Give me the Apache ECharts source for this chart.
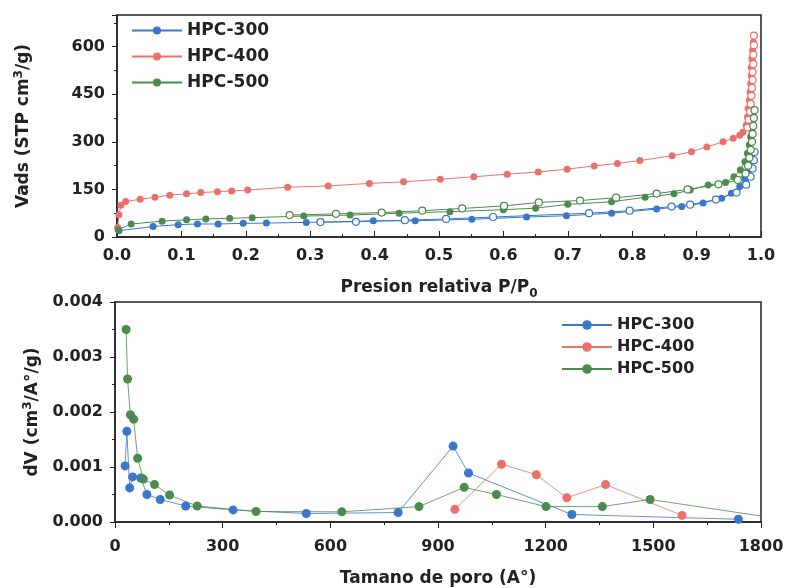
<!DOCTYPE html>
<html>
<head>
<meta charset="utf-8">
<title>HPC isotherms</title>
<script src="https://cdn.jsdelivr.net/npm/echarts@6/dist/echarts.min.js"></script>
<style>
html, body { margin: 0; padding: 0; background: #fff; }
#main { width: 787px; height: 588px; }
</style>
</head>
<body>
<div id="main"></div>
<script>
var names = ['HPC-300', 'HPC-400', 'HPC-500'];
var colors = ['#3a77c9', '#ea716b', '#4d8a4d'];

// isotherm: adsorption branch (filled) and desorption branch (open), [P/P0, Vads]
var ads300 = [[0.003,20],[0.056,33],[0.095,39],[0.125,41],[0.157,41],[0.196,43],[0.232,44],[0.294,46],[0.398,51],[0.463,51],[0.551,56],[0.636,63],[0.698,67],[0.768,75],[0.838,88],[0.877,96],[0.91,107],[0.939,122],[0.954,138],[0.967,159],[0.975,185],[0.98,211],[0.983,237],[0.986,262]];
var des300 = [[0.99,268],[0.989,242],[0.987,216],[0.984,190],[0.977,165],[0.962,140],[0.93,118],[0.89,102],[0.861,96],[0.796,83],[0.733,75],[0.584,63],[0.511,57],[0.447,53],[0.371,48],[0.316,47]];
var ads400 = [[0.001,30],[0.003,70],[0.006,100],[0.0135,112],[0.036,119],[0.059,125],[0.082,132],[0.108,136],[0.13,140],[0.156,143],[0.178,145],[0.203,148],[0.265,157],[0.328,161],[0.392,169],[0.445,174],[0.502,182],[0.554,190],[0.606,198],[0.654,205],[0.699,214],[0.741,224],[0.777,232],[0.812,241],[0.862,256],[0.892,269],[0.916,284],[0.941,300],[0.957,311],[0.967,321],[0.972,330],[0.977,352],[0.979,378],[0.98,405],[0.982,431],[0.983,457],[0.984,483],[0.985,509],[0.985,535],[0.986,562],[0.987,588],[0.988,614]];
var des400 = [[0.989,635],[0.989,605],[0.988,575],[0.988,545],[0.987,520],[0.987,495],[0.986,470],[0.985,445],[0.984,420],[0.983,395],[0.981,370],[0.979,345]];
var ads500 = [[0.002,23],[0.022,41],[0.07,50],[0.108,54],[0.138,57],[0.175,59],[0.21,61],[0.29,66],[0.362,69],[0.438,75],[0.517,80],[0.6,86],[0.65,91],[0.7,103],[0.768,111],[0.82,125],[0.865,136],[0.89,148],[0.918,164],[0.945,172],[0.958,190],[0.968,211],[0.975,237],[0.979,264],[0.982,290],[0.984,316],[0.986,342],[0.987,368],[0.988,394]];
var des500 = [[0.99,400],[0.989,375],[0.988,350],[0.987,325],[0.986,300],[0.984,275],[0.982,250],[0.98,225],[0.976,200],[0.964,180],[0.934,166],[0.886,150],[0.838,137],[0.775,124],[0.719,115],[0.655,109],[0.601,98],[0.536,90],[0.474,83],[0.411,77],[0.34,73],[0.268,69]];

// pore size distribution, [A, dV]
var psd300 = [[28,0.00102],[33,0.00165],[41,0.00062],[49,0.00082],[72,0.0008],[89,0.0005],[126,0.00041],[197,0.00029],[329,0.00022],[533,0.000154],[789,0.000173],[942,0.00138],[985,0.00089],[1273,0.000136],[1737,0.00005]];
var psd400 = [[947,0.00023],[1077,0.00105],[1174,0.00086],[1259,0.00044],[1367,0.00068],[1580,0.00012]];
var psd500 = [[31,0.0035],[35,0.0026],[43,0.00195],[52,0.00187],[63,0.00116],[79,0.00078],[110,0.00068],[152,0.00049],[229,0.00029],[393,0.00019],[632,0.000185],[847,0.00028],[973,0.00063],[1063,0.0005],[1201,0.00028],[1358,0.00028],[1491,0.00041],[1850,0.00006]];

var font = 'DejaVu Sans';
var txt = { fontFamily: font, fontWeight: 'bold', fontSize: 16, color: '#222' };

function isoSeries(name, data, color, open) {
    return {
        name: name, type: 'line', data: data,
        xAxisIndex: 0, yAxisIndex: 0,
        symbol: 'circle', symbolSize: 7,
        lineStyle: { color: color, width: 1 },
        itemStyle: open ? { color: '#fff', borderColor: color, borderWidth: 1.2 } : { color: color },
        z: open ? 3 : 2
    };
}
function psdSeries(name, data, color) {
    return {
        name: name, type: 'line', data: data,
        xAxisIndex: 1, yAxisIndex: 1,
        symbol: 'circle', symbolSize: 9,
        lineStyle: { color: color, width: 1, opacity: 0.8 },
        itemStyle: { color: color }
    };
}

var chart = echarts.init(document.getElementById('main'));
var option = {
    animation: false,
    grid: [
        { left: 117, right: 26, top: 15, height: 222, show: true, borderColor: '#222', borderWidth: 1.5 },
        { left: 115, right: 26, top: 302, height: 220, show: true, borderColor: '#222', borderWidth: 1.5 }
    ],
    legend: [
        {
            data: names, orient: 'vertical', left: 126, top: 17, itemGap: 9,
            itemWidth: 50, itemHeight: 10, textStyle: Object.assign({}, txt, { fontSize: 17 })
        },
        {
            data: names, orient: 'vertical', left: 556, top: 312, itemGap: 6,
            itemWidth: 50, itemHeight: 12, textStyle: Object.assign({}, txt, { fontSize: 16 })
        }
    ],
    xAxis: [
        {
            gridIndex: 0, type: 'value', min: 0, max: 1, interval: 0.1,
            name: 'Presion relativa P/P{sub|0}', nameLocation: 'middle', nameGap: 39,
            nameTextStyle: Object.assign({}, txt, { fontSize: 17, rich: { sub: Object.assign({}, txt, { fontSize: 12, padding: [12, 0, 0, 0] }) } }),
            axisLine: { lineStyle: { color: '#222', width: 1.5 } },
            axisTick: { inside: true, length: 6, lineStyle: { color: '#222' } },
            minorTick: { show: true, splitNumber: 2, length: 3, lineStyle: { color: '#222' } },
            splitLine: { show: false },
            axisLabel: Object.assign({}, txt, { margin: 11, formatter: function (v) { return v.toFixed(1); } })
        },
        {
            gridIndex: 1, type: 'value', min: 0, max: 1800, interval: 300,
            name: 'Tamano de poro (A°)', nameLocation: 'middle', nameGap: 48,
            nameTextStyle: Object.assign({}, txt, { fontSize: 17 }),
            axisLine: { lineStyle: { color: '#222', width: 1.5 } },
            axisTick: { length: 6, lineStyle: { color: '#222' } },
            minorTick: { show: true, splitNumber: 2, length: 3, lineStyle: { color: '#222' } },
            splitLine: { show: false },
            axisLabel: Object.assign({}, txt, { margin: 17, formatter: function (v) { return String(v); } })
        }
    ],
    yAxis: [
        {
            gridIndex: 0, type: 'value', min: 0, max: 700, interval: 150,
            name: 'Vads (STP cm{sup|3}/g)', nameLocation: 'middle', nameGap: 82,
            nameTextStyle: Object.assign({}, txt, { fontSize: 17, rich: { sup: Object.assign({}, txt, { fontSize: 12, padding: [0, 0, 10, 0] }) } }),
            axisLine: { lineStyle: { color: '#222', width: 1.5 } },
            axisTick: { length: 5, lineStyle: { color: '#222' } },
            minorTick: { show: true, splitNumber: 2, length: 3, lineStyle: { color: '#222' } },
            splitLine: { show: false },
            axisLabel: Object.assign({}, txt, { margin: 12, showMaxLabel: false })
        },
        {
            gridIndex: 1, type: 'value', min: 0, max: 0.004, interval: 0.001,
            name: 'dV (cm{sup|3}/A°/g)', nameLocation: 'middle', nameGap: 66,
            nameTextStyle: Object.assign({}, txt, { fontSize: 17, rich: { sup: Object.assign({}, txt, { fontSize: 12, padding: [0, 0, 10, 0] }) } }),
            axisLine: { lineStyle: { color: '#222', width: 1.5 } },
            axisTick: { length: 5, lineStyle: { color: '#222' } },
            minorTick: { show: true, splitNumber: 2, length: 3, lineStyle: { color: '#222' } },
            splitLine: { show: false },
            axisLabel: Object.assign({}, txt, { margin: 12, formatter: function (v) { return v.toFixed(3); } })
        }
    ],
    series: [
        isoSeries(names[0], ads300, colors[0], false),
        isoSeries(names[1], ads400, colors[1], false),
        isoSeries(names[2], ads500, colors[2], false),
        isoSeries(names[0], des300, colors[0], true),
        isoSeries(names[1], des400, colors[1], true),
        isoSeries(names[2], des500, colors[2], true),
        psdSeries(names[0], psd300, colors[0]),
        psdSeries(names[1], psd400, colors[1]),
        psdSeries(names[2], psd500, colors[2])
    ]
};
chart.setOption(option);
</script>
</body>
</html>
